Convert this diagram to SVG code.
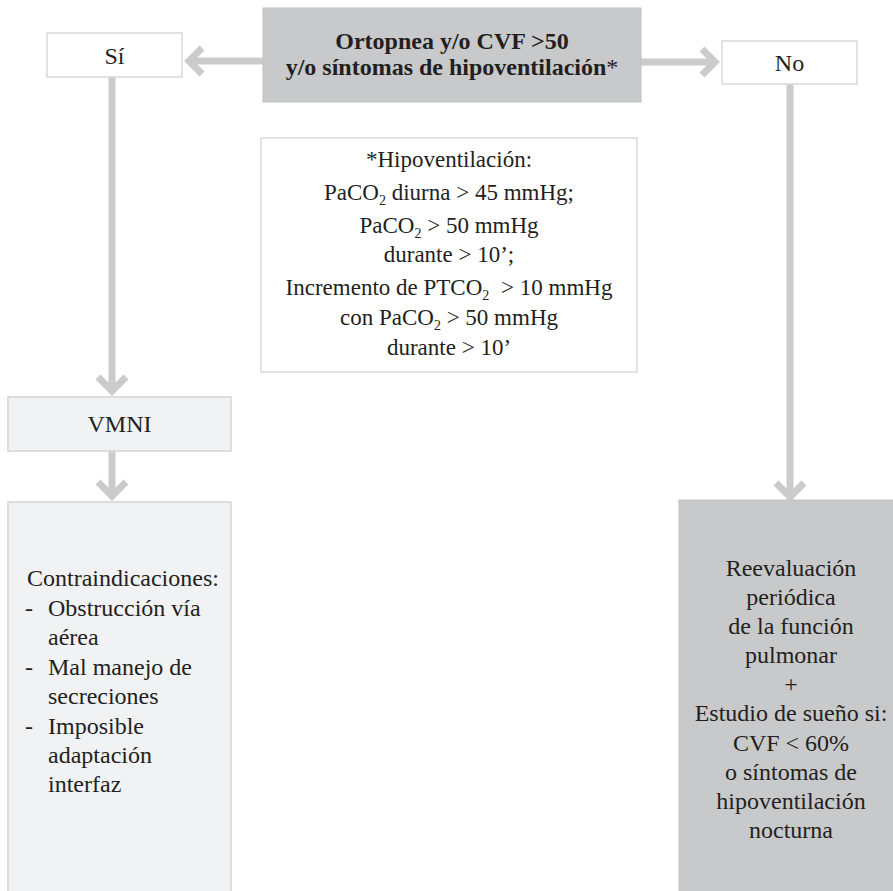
<svg xmlns="http://www.w3.org/2000/svg" width="893" height="891" viewBox="0 0 893 891" font-family="'Liberation Serif', 'Times New Roman', Tinos, 'DejaVu Serif', serif">
<style>
.t{font-size:24px;fill:#231f20}
.c{text-anchor:middle}
.b{font-weight:bold}
.s{font-size:23px}
.sub{font-size:14px}
.white{fill:#ffffff;stroke:#d9d9d9;stroke-width:1.5}
.light{fill:#f1f2f4;stroke:#d3d4d6;stroke-width:1.5}
.dark{fill:#c8c9cb;stroke:#c0c1c3;stroke-width:1}
.ln{fill:none;stroke:#cbcbcb;stroke-width:7}
</style>
<rect width="893" height="891" fill="#ffffff"/>
<g id="connectors">
<line class="ln" x1="263" y1="61" x2="189" y2="61"/>
<polyline class="ln" points="202,48 189,61 202,74"/>
<line class="ln" x1="641" y1="62" x2="715" y2="62"/>
<polyline class="ln" points="702,49 715,62 702,75"/>
<line class="ln" x1="112" y1="77" x2="112" y2="389"/>
<polyline class="ln" points="98,377 112,391 126,377"/>
<line class="ln" x1="112" y1="451" x2="112" y2="494"/>
<polyline class="ln" points="98,482 112,496 126,482"/>
<line class="ln" x1="790" y1="84" x2="790" y2="495"/>
<polyline class="ln" points="776,483 790,497 804,483"/>
</g>
<g id="main">
<rect class="dark" x="263" y="8" width="378" height="94"/>
<text class="t c b" x="452" y="49">Ortopnea y/o CVF &gt;50</text>
<text class="t c b" x="452" y="75">y/o síntomas de hipoventilación<tspan font-weight="normal">*</tspan></text>
</g>
<g id="si">
<rect class="white" x="47" y="33" width="135" height="44"/>
<text class="t c" x="114.5" y="64">Sí</text>
</g>
<g id="no">
<rect class="white" x="722" y="41" width="135" height="43"/>
<text class="t c" x="789.5" y="71">No</text>
</g>
<g id="hipoventilacion">
<rect class="white" x="261" y="138" width="376" height="234"/>
<text class="t c s" x="449" y="167">*Hipoventilación:</text>
<text class="t c s" x="449" y="200">PaCO<tspan class="sub" dy="5">2</tspan><tspan dy="-5"> diurna &gt; 45 mmHg;</tspan></text>
<text class="t c s" x="449" y="233">PaCO<tspan class="sub" dy="5">2</tspan><tspan dy="-5"> &gt; 50 mmHg</tspan></text>
<text class="t c s" x="449" y="262">durante &gt; 10’;</text>
<text class="t c s" x="449" y="295">Incremento de PTCO<tspan class="sub" dy="5">2</tspan><tspan dy="-5" dx="6"> &gt; 10 mmHg</tspan></text>
<text class="t c s" x="449" y="325">con PaCO<tspan class="sub" dy="5">2</tspan><tspan dy="-5"> &gt; 50 mmHg</tspan></text>
<text class="t c s" x="449" y="355">durante &gt; 10’</text>
</g>
<g id="vmni">
<rect class="light" x="8" y="397" width="223" height="54"/>
<text class="t c" x="119.5" y="432">VMNI</text>
</g>
<g id="contraindicaciones">
<rect class="light" x="8" y="502" width="223" height="395"/>
<text class="t" x="27" y="586">Contraindicaciones:</text>
<text class="t" x="25" y="616">-</text><text class="t" x="48" y="616">Obstrucción vía</text>
<text class="t" x="48" y="645">aérea</text>
<text class="t" x="25" y="675">-</text><text class="t" x="48" y="675">Mal manejo de</text>
<text class="t" x="48" y="704">secreciones</text>
<text class="t" x="25" y="734">-</text><text class="t" x="48" y="734">Imposible</text>
<text class="t" x="48" y="763">adaptación</text>
<text class="t" x="48" y="792">interfaz</text>
</g>
<g id="reevaluacion">
<rect class="dark" x="679" y="500" width="220" height="400"/>
<text class="t c" x="791" y="576">Reevaluación</text>
<text class="t c" x="791" y="605">periódica</text>
<text class="t c" x="791" y="634">de la función</text>
<text class="t c" x="791" y="663">pulmonar</text>
<text class="t c" x="791" y="692">+</text>
<text class="t c" x="791" y="721">Estudio de sueño si:</text>
<text class="t c" x="791" y="751">CVF &lt; 60%</text>
<text class="t c" x="791" y="780">o síntomas de</text>
<text class="t c" x="791" y="809">hipoventilación</text>
<text class="t c" x="791" y="838">nocturna</text>
</g>
</svg>
